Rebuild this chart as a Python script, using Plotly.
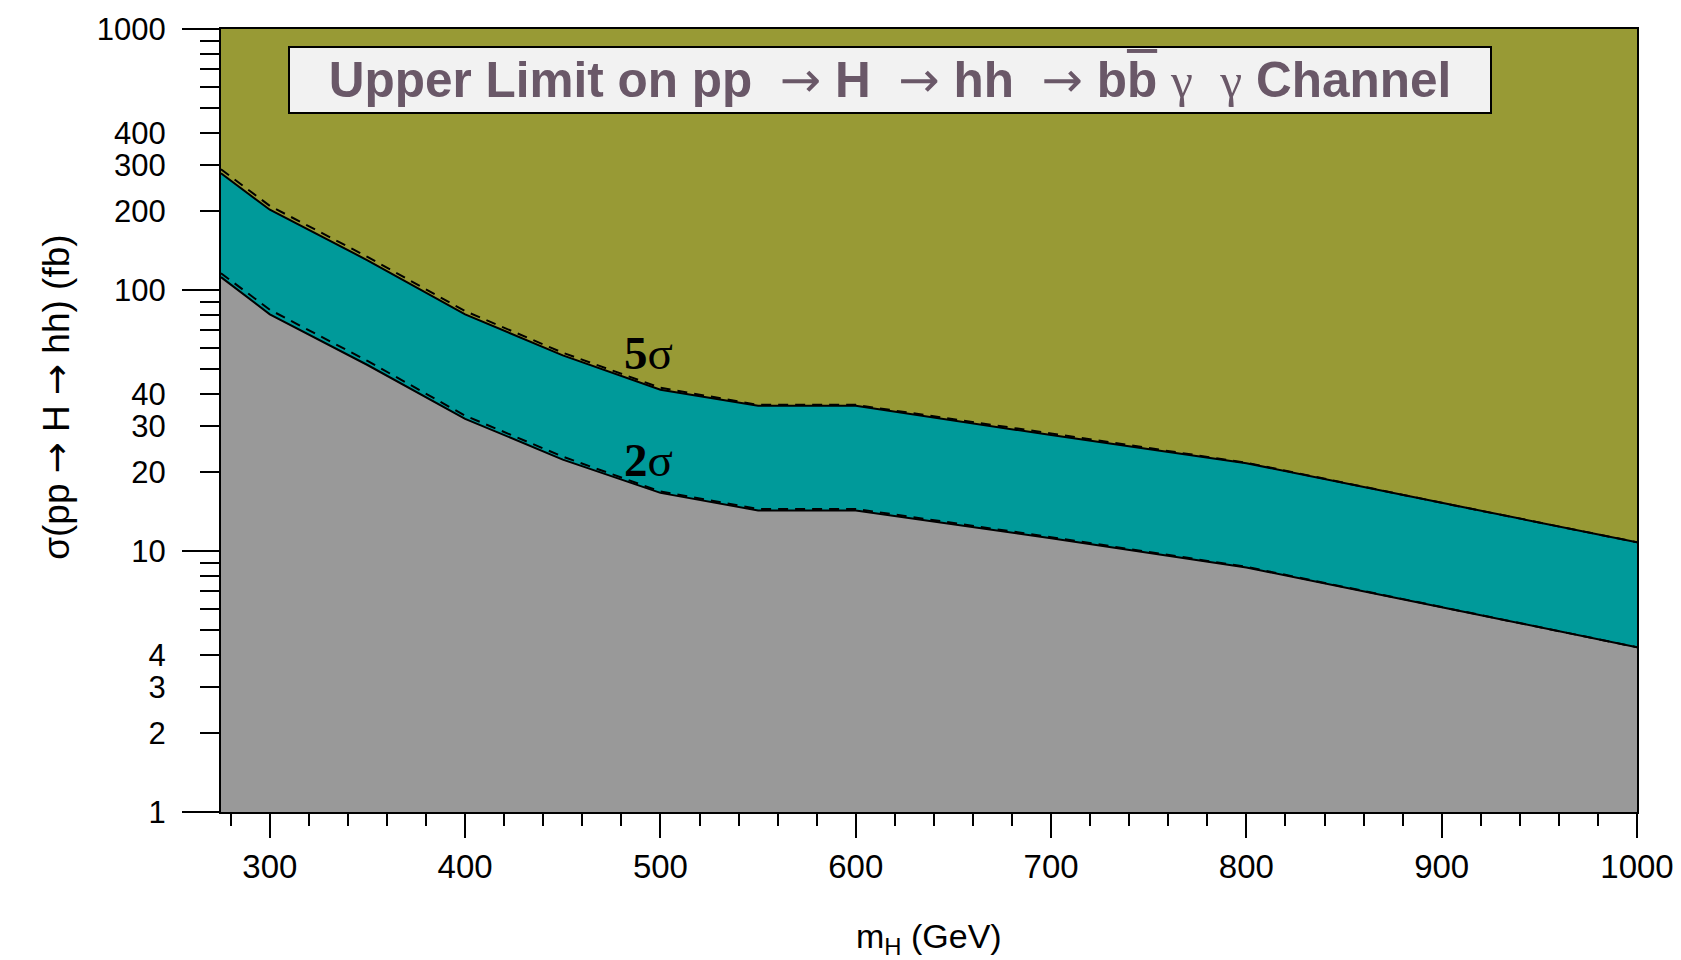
import plotly.graph_objects as go

# Heavy Higgs mass points (GeV)
mass = [275, 300, 350, 400, 450, 500, 550, 600, 700, 800, 900, 1000]
# Upper limits on sigma(pp -> H -> hh) in fb
lim_2sigma = [112, 80.7, 51.6, 32.1, 22.4, 16.7, 14.3, 14.3, 11.2, 8.65, 6.09, 4.28]
lim_5sigma = [280, 203, 130, 80.7, 56.2, 41.5, 36.0, 36.0, 27.8, 21.7, 15.3, 10.8]
# Alternative (dashed) limit curves
lim_2sigma_alt = [116, 84, 53.5, 33.0, 23.0, 16.9, 14.5, 14.5, 11.3, 8.7, 6.1, 4.28]
lim_5sigma_alt = [290, 210, 134, 83.0, 57.5, 42.2, 36.3, 36.3, 28.2, 21.8, 15.3, 10.8]

y_labeled = [1, 2, 3, 4, 10, 20, 30, 40, 100, 200, 300, 400, 1000]
y_minor = [5, 6, 7, 8, 9, 50, 60, 70, 80, 90, 500, 600, 700, 800, 900]
y_decades = [1, 10, 100, 1000]
x_major = [300, 400, 500, 600, 700, 800, 900, 1000]
x_minor = [v for v in range(280, 1000, 20) if v % 100 != 0]

OLIVE = "rgb(152,154,53)"
TEAL = "rgb(0,154,154)"
GREY = "rgb(153,153,153)"
FONT = "Liberation Sans, Arial, sans-serif"
SERIF = "Liberation Serif, Times New Roman, serif"

fig = go.Figure()

# baseline at the bottom of the axis to fill against
fig.add_trace(go.Scatter(x=mass, y=[1] * len(mass), mode="lines",
                         line=dict(width=0), showlegend=False, hoverinfo="skip"))
fig.add_trace(go.Scatter(x=mass, y=lim_2sigma, mode="lines", fill="tonexty",
                         fillcolor=GREY, line=dict(color="black", width=2),
                         showlegend=False))
fig.add_trace(go.Scatter(x=mass, y=lim_5sigma, mode="lines", fill="tonexty",
                         fillcolor=TEAL, line=dict(color="black", width=2),
                         showlegend=False))
for ys in (lim_2sigma_alt, lim_5sigma_alt):
    fig.add_trace(go.Scatter(x=mass, y=ys, mode="lines",
                             line=dict(color="black", width=2, dash="10px,7px"),
                             showlegend=False))
# invisible trace so the decade-tick axis is rendered
fig.add_trace(go.Scatter(x=[mass[0]], y=[1], yaxis="y2", mode="markers",
                         marker=dict(opacity=0), showlegend=False, hoverinfo="skip"))

fig.update_layout(
    width=1681, height=960,
    margin=dict(l=221, r=44, t=29, b=148),
    paper_bgcolor="white", plot_bgcolor=OLIVE,
    font=dict(family=FONT, color="black", size=31),
    xaxis=dict(
        range=[275, 1000], showgrid=False, zeroline=False, automargin=False,
        showline=True, linecolor="black", linewidth=2, mirror=True,
        ticks="outside", tickvals=x_major, ticklen=24, tickwidth=2, tickcolor="black",
        tickfont=dict(size=33, family=FONT), ticklabelstandoff=0,
        minor=dict(tickvals=x_minor, ticks="outside", ticklen=12, tickwidth=2,
                   tickcolor="black", showgrid=False),
    ),
    yaxis=dict(
        type="log", range=[0, 3], showgrid=False, zeroline=False, automargin=False,
        showline=True, linecolor="black", linewidth=2, mirror=True,
        ticks="outside", tickvals=y_labeled, ticktext=[str(v) for v in y_labeled],
        ticklen=19, tickwidth=2, tickcolor="black",
        tickfont=dict(size=31, family=FONT), ticklabelstandoff=28,
        minor=dict(tickvals=y_minor, ticks="outside", ticklen=19, tickwidth=2,
                   tickcolor="black", showgrid=False),
    ),
    yaxis2=dict(
        type="log", range=[0, 3], overlaying="y", side="left", automargin=False,
        showgrid=False, zeroline=False, showline=False, showticklabels=False,
        ticks="outside", tickvals=y_decades, ticklen=38, tickwidth=2, tickcolor="black",
    ),
)

ARROW_FONT = "DejaVu Sans, sans-serif"
gamma = "<span style='font-family:Liberation Serif, serif;font-weight:normal'>γ</span>"
arrow = ("<span style='font-family:" + ARROW_FONT +
         ";font-weight:normal'>→</span>")
title = ("<b>Upper Limit on pp  " + arrow + " H  " + arrow + " hh  " + arrow +
         " b<span style='text-decoration:overline'>b</span> " + gamma + "  " + gamma +
         " Channel</b>")
fig.add_annotation(
    xref="paper", yref="paper", x=0.4725, y=0.9355, xanchor="center", yanchor="middle",
    text=title, showarrow=False,
    font=dict(size=49.5, family=FONT, color="rgb(106,88,104)"),
    bgcolor="rgb(242,242,242)", bordercolor="black", borderwidth=2,
    width=1198, height=62, align="center", valign="middle",
)

for lbl, yv in (("5", 1.759), ("2", 1.349)):
    fig.add_annotation(
        x=494, y=yv, xref="x", yref="y", showarrow=False,
        xanchor="center", yanchor="middle",
        text="<b>" + lbl + "</b>σ",
        font=dict(size=47, family=SERIF, color="black"),
    )

y_arrow = "<span style='font-family:" + ARROW_FONT + "'>→</span>"
fig.add_annotation(
    xref="paper", yref="paper", x=-0.1158, y=0.529, xanchor="center", yanchor="middle",
    showarrow=False, textangle=-90,
    text="σ(pp " + y_arrow + " H " + y_arrow + " hh) (fb)",
    font=dict(size=37, family=FONT),
)
fig.add_annotation(
    xref="paper", yref="paper", x=0.5, y=-0.161, xanchor="center", yanchor="middle",
    showarrow=False,
    text="m<sub>H</sub> (GeV)", font=dict(size=34, family=FONT),
)

fig.write_html("out.html")
